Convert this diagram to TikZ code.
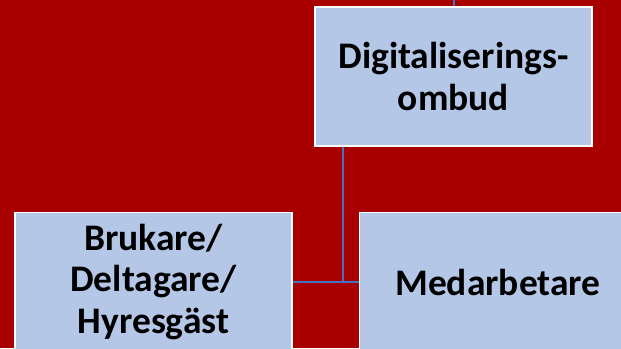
\documentclass[tikz,border=0pt]{standalone}
\usepackage{fontspec}
\setmainfont{Carlito}
\definecolor{bgred}{HTML}{A80000}
\definecolor{boxblue}{HTML}{B4C7E7}
\definecolor{linkblue}{HTML}{4472C4}
\begin{document}
\begin{tikzpicture}[x=1pt,y=-1pt,
  box/.style={rectangle, draw=white, line width=1.5pt, fill=boxblue,
    minimum width=277pt, minimum height=139pt, inner sep=0pt,
    align=center, font=\fontsize{37.5}{41.5}\selectfont\bfseries, text=black},
  link/.style={draw=linkblue, line width=2pt}]
\useasboundingbox (0,0) rectangle (621,348);
\clip (0,0) rectangle (621,348);
\fill[bgred] (0,0) rectangle (621,348);
\node[box] (top) at (453.5,76.5) {Digitaliserings-\\ombud};
\node[box] (left) at (153.5,282) {Brukare/\\Deltagare/\\Hyresgäst};
\node[box] (right) at (498,282) {Medarbetare};
\coordinate (j) at (343,282);
\coordinate (p) at (453.5,-10);
\draw[link] (p) -- (top.north);
\draw[link] (top.south -| j) -- (j);
\draw[link] (left.east) -- (right.west);
\end{tikzpicture}
\end{document}
